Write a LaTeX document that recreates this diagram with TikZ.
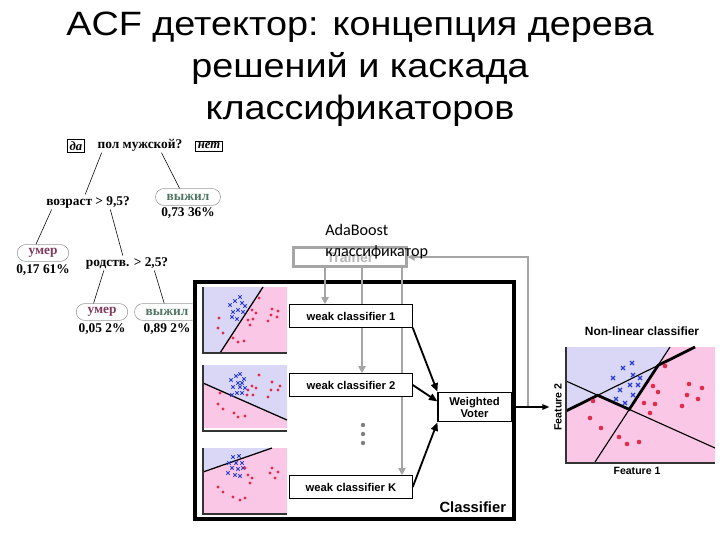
\documentclass[tikz,border=0pt]{standalone}
\usepackage{fontspec}
\setmainfont{Liberation Serif}
\setsansfont{Liberation Sans}
\newfontfamily\titlefont{Liberation Sans}
\newfontfamily\notefont{Carlito}
\usepackage{tikz}
\usetikzlibrary{positioning,arrows.meta}
\usepackage{color}

\definecolor{lavender}{RGB}{218,214,246}
\definecolor{pinkfill}{RGB}{250,200,230}
\definecolor{crossblue}{RGB}{40,60,205}
\definecolor{dotred}{RGB}{225,45,75}
\definecolor{liveclr}{RGB}{80,118,98}
\definecolor{deadclr}{RGB}{128,58,92}
\definecolor{trainergray}{RGB}{165,165,165}

\begin{document}
\begin{tikzpicture}[x=0.025cm,y=-0.025cm]
        % Setup the styles
        \tikzset{question/.style={font=\bfseries\fontsize{9.5}{10}\selectfont, inner sep=1pt},
                 answer/.style={draw, font=\bfseries\itshape\fontsize{9}{10}\selectfont,
                                inner sep=1.5pt},
                 leaf/.style={draw=gray!80, rounded corners=6pt, inner xsep=8pt,
                              minimum height=12pt, inner ysep=1pt,
                              font=\bfseries\fontsize{9.5}{10}\selectfont},
                 value/.style={font=\bfseries\fontsize{9.5}{10}\selectfont, inner sep=0.5pt},
                 weakbox/.style={draw, line width=0.8pt, fill=white,
                                 minimum width=87pt, minimum height=16pt,
                                 font=\sffamily\bfseries\fontsize{8}{9.5}\selectfont},
                 feed/.style={draw=trainergray, line width=1.3pt,
                              -{Triangle[length=5pt,width=5pt]}},
                 vote/.style={line width=1.3pt, -{Triangle[length=6pt,width=5pt]}},
                 crossmark/.style={draw=crossblue, line width=0.7pt},
                 axisline/.style={draw=black!80, line width=0.8pt}}

        % Page and title
        \fill[white] (0,0) rectangle (720,540);
        \useasboundingbox (0,0) rectangle (720,540);
        \node[align=center, font=\titlefont\fontsize{24}{30}\selectfont,
              xscale=1.12, transform shape] at (360,69) (title)
            {ACF детектор: концепция дерева\\решений и каскада\\классификаторов};

        % Draw the decision tree
        \node[question] at (140,145) (sex) {пол мужской?};
        \node[answer] at (76,146) (yes) {да};
        \node[answer] at (209,146) (no) {нет};
        \node[question] at (88,202) (age) {возраст > 9,5?};
        \node[question] at (127,263) (sib) {родств. > 2,5?};
        \node[leaf, text=liveclr] at (188,197) (live1) {выжил};
        \node[leaf, text=deadclr] at (43,253) (dead1) {умер};
        \node[leaf, text=deadclr] at (102,312) (dead2) {умер};
        \node[leaf, text=liveclr] at (167,312) (live2) {выжил};
        \node[value, below=1pt of live1] (live1val) {0,73 36\%};
        \node[value, below=1pt of dead1] (dead1val) {0,17 61\%};
        \node[value, below=1pt of dead2] (dead2val) {0,05 2\%};
        \node[value, below=1pt of live2] (live2val) {0,89 2\%};

        \draw ([xshift=4pt]sex.south west) -- ([xshift=-2pt]age.north);
        \draw ([xshift=-16pt]sex.south east) -- ([xshift=-6pt]live1.north);
        \draw ([xshift=5pt]age.south west) -- ([xshift=-5pt]dead1.north);
        \draw ([xshift=-15pt]age.south east) -- ([xshift=-3pt]sib.north);
        \draw ([xshift=14pt]sib.south west) -- ([xshift=-6pt]dead2.north);
        \draw ([xshift=-11pt]sib.south east) -- ([xshift=-2pt]live2.north);

        % Draw the boosted classifier
        \draw[line width=2.2pt, fill=white] (195,282) rectangle (514,519);
        \node[font=\sffamily\bfseries\fontsize{10.5}{12}\selectfont, anchor=south east]
            at (511,518) (clslabel) {Classifier};

        % weak classifier pictures
        \fill[lavender] (203,287) -- (263,287) -- (220,353) -- (203,353) -- cycle;
        \fill[pinkfill] (263,287) -- (287,287) -- (287,353) -- (220,353) -- cycle;
        \draw[line width=0.9pt] (220,353) -- (263,287);
        \fill[lavender] (203,365) -- (287,365) -- (287,420) -- (203,383) -- cycle;
        \fill[pinkfill] (203,383) -- (287,420) -- (287,428) -- (203,428) -- cycle;
        \draw[line width=0.9pt] (203,383) -- (287,420);
        \fill[lavender] (203,448) -- (272,448) -- (203,472) -- cycle;
        \fill[pinkfill] (272,448) -- (287,448) -- (287,515) -- (203,515) -- (203,472) -- cycle;
        \draw[line width=0.9pt] (203,472) -- (272,448);
        \foreach \y in {287,365,448}
            \draw[axisline] (203,\y) -- (203,\y+66) -- (287,\y+66);

        \foreach \p in {(230,305),(235,301),(240,297),(242,303),(245,306),(233,312),
                        (238,310),(243,312),(232,317),(237,319),
                        (231,380),(236,376),(240,374),(244,379),(238,383),(242,383),
                        (233,387),(240,387),(245,388),(237,393),(232,395),(242,393),
                        (233,457),(239,456),(229,463),(236,463),(242,463),(232,468),
                        (238,469),(243,468),(235,475),(240,476),(228,473)}
            \draw[crossmark, line width=0.6pt] \p +(-1.7,-1.7) -- +(1.7,1.7) +(-1.7,1.7) -- +(1.7,-1.7);
        \foreach \p in {(219,318),(218,328),(223,333),(233,338),(238,342),(244,341),
                        (252,310),(256,313),(253,319),(248,320),(259,298),(272,309),
                        (278,311),(271,315),(277,317),(268,321),(250,325),
                        (220,393),(218,404),(223,409),(234,413),(238,417),(245,416),
                        (259,375),(252,386),(256,388),(248,390),(253,395),(272,382),
                        (280,386),(271,390),(278,390),(268,397),(247,395),
                        (245,468),(252,478),(272,468),(278,472),(270,473),(275,478),
                        (218,487),(223,492),(233,497),(240,500),(245,498),(248,475),(250,483)}
            \fill[dotred] \p circle (1.6);

        % trainer, weak classifiers and voter
        \node[draw=trainergray, line width=2pt, minimum width=80pt, minimum height=14pt,
              text=trainergray!80, font=\sffamily\bfseries\fontsize{10}{12}\selectfont]
            at (350,257) (trainer) {Trainer};
        \node[weakbox] at (351,316) (weak1) {weak classifier 1};
        \node[weakbox] at (351,385) (weak2) {weak classifier 2};
        \node[weakbox] at (351,487) (weakK) {weak classifier K};
        \node[weakbox, minimum width=52pt, minimum height=21pt, align=center,
              font=\sffamily\bfseries\fontsize{8}{8.5}\selectfont]
            at (474.5,407) (voter) {Weighted\\Voter};
        \foreach \y in {425,434,443}
            \fill[gray] (363,\y) circle (2.2);

        \coordinate (t1) at (325,0);
        \coordinate (t2) at (362,0);
        \coordinate (t3) at (402,0);
        \coordinate (fb) at (528,0);
        \draw[feed] (trainer.south -| t1) -- (weak1.north -| t1);
        \draw[feed] (trainer.south -| t2) -- (weak2.north -| t2);
        \draw[feed] (trainer.south -| t3) -- (weakK.north -| t3);
        % put the boxes back over the passing lines
        \node[weakbox] at (351,316) {weak classifier 1};
        \node[weakbox] at (351,385) {weak classifier 2};
        \draw[feed] (voter.east -| fb) |- (trainer.east);
        \draw[line width=1pt] (voter.east) -- (voter.east -| fb);

        \draw[vote] (weak1.south east) -- (voter.north west);
        \draw[vote] (weak2.east) -- ([yshift=4pt]voter.west);
        \draw[vote] (weakK.east) -- (voter.south west);

        \node[font=\notefont\fontsize{11.5}{15}\selectfont, align=left, anchor=north west,
              inner sep=0pt] at (325,224) (adaboost) {AdaBoost\\классификатор};

        % Draw the non-linear classifier plot
        \fill[pinkfill] (566,347) rectangle (715,463);
        \fill[lavender] (566,347) -- (566,411) -- (597.7,395.3) -- (629.2,409.4)
                        -- (658.2,365.3) -- (670,347) -- cycle;
        \draw[line width=0.8pt] (566,381) -- (715,448);
        \draw[line width=0.8pt] (595,462) -- (670,347);
        \draw[line width=0.8pt] (597.7,395.3) -- (658.2,365.3);
        \draw[line width=2pt] (566,411) -- (597.7,395.3) -- (629.2,409.4)
                              -- (658.2,365.3) -- (695,347);
        \draw[axisline, line width=1pt] (566,347) -- (566,463) -- (715,463);
        \foreach \p in {(623,368),(632,363),(613,378),(633,375),(640,378),(620,390),
                        (630,385),(638,385),(633,395),(616,399),(625,403)}
            \draw[crossmark, line width=0.9pt] \p +(-2,-2) -- +(2,2) +(-2,2) -- +(2,-2);
        \foreach \p in {(665,366),(653,386),(658,392),(644,403),(655,404),(650,413),
                        (593,401),(590,418),(601,428),(619,437),(627,444),(639,442),
                        (689,384),(702,388),(687,395),(698,399),(682,406)}
            \fill[dotred] \p circle (2.3);
        \node[font=\sffamily\bfseries\fontsize{8.5}{10}\selectfont] at (642,331) (nltitle)
            {Non-linear classifier};
        \node[font=\sffamily\bfseries\fontsize{7.5}{9}\selectfont] at (637,471) (feat1)
            {Feature 1};
        \node[font=\sffamily\bfseries\fontsize{7.5}{9}\selectfont, rotate=90] at (558,407)
            (feat2) {Feature 2};
        \draw[-{Triangle[length=5pt,width=4pt]}, line width=0.9pt] (voter.east) -- (feat2.north);
\end{tikzpicture}
\end{document}
